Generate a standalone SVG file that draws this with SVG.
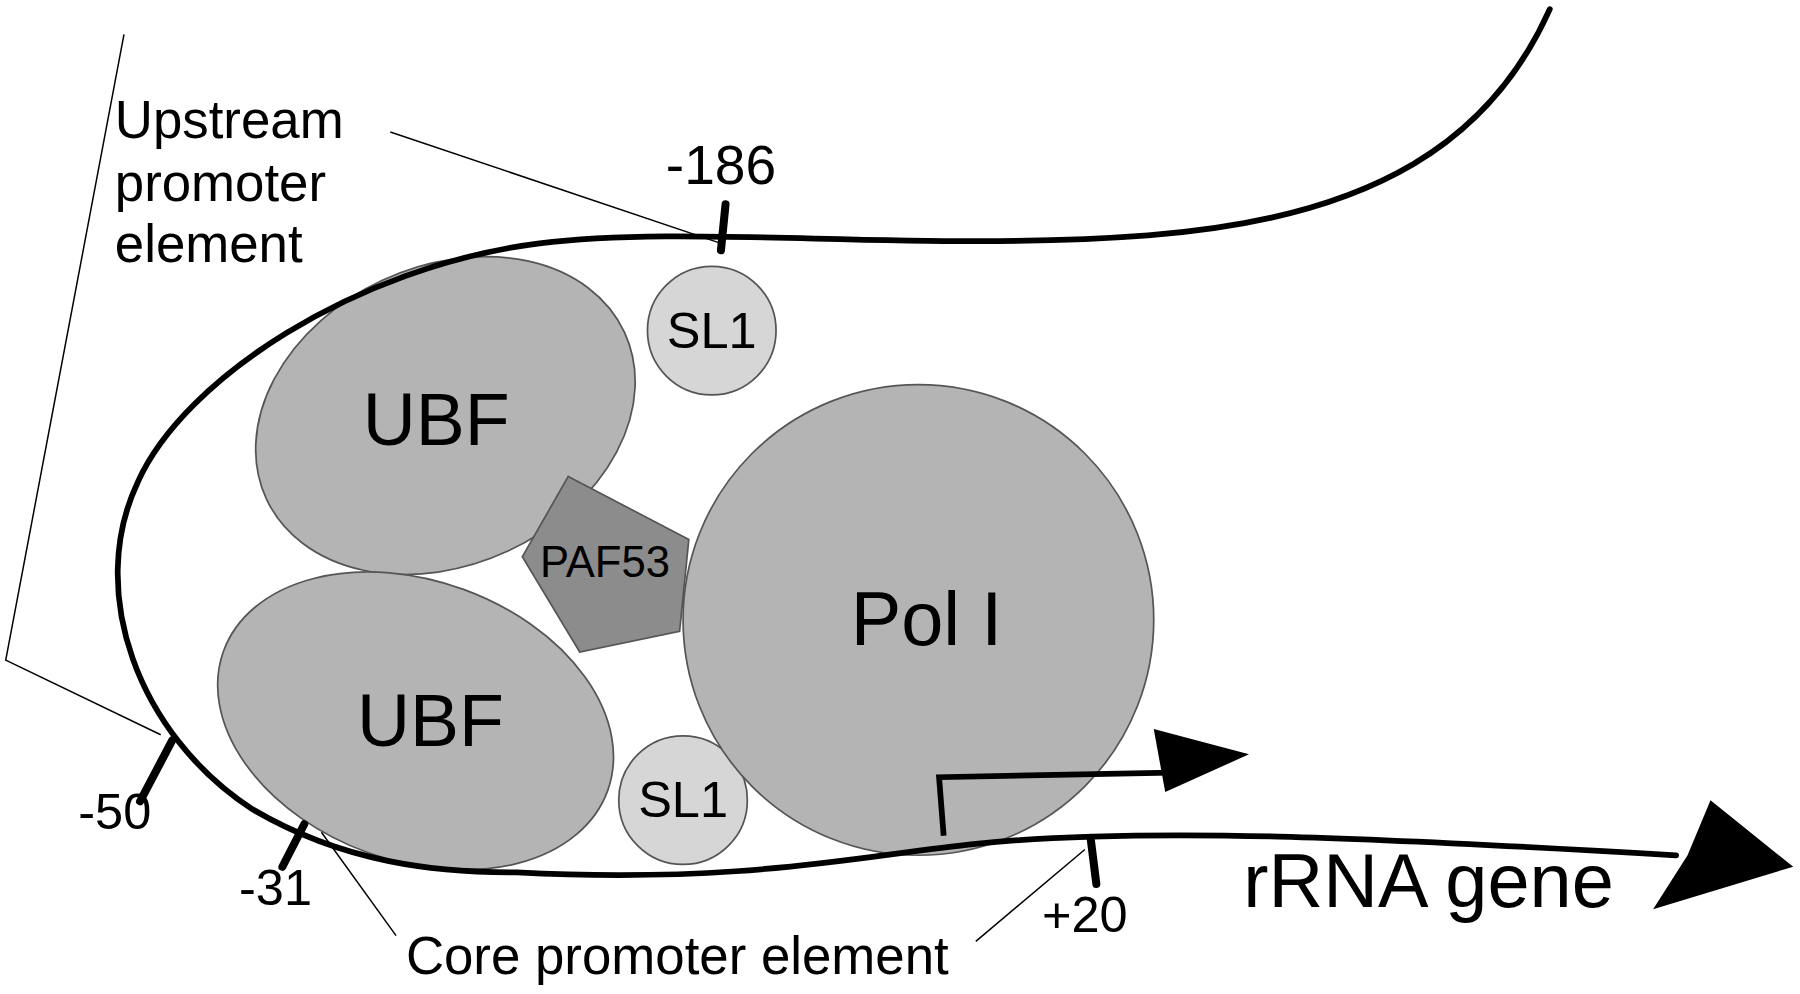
<svg xmlns="http://www.w3.org/2000/svg" width="1800" height="994" viewBox="0 0 1800 994">
<style>
text{font-family:"Liberation Sans",Arial,sans-serif;fill:#000}
.dna{fill:none;stroke:#000;stroke-width:5;stroke-linecap:round}
.tick{stroke:#000;stroke-width:7;stroke-linecap:round}
.lead{fill:none;stroke:#000;stroke-width:1.3}
.obj{stroke:#555;stroke-width:1.5}
</style>
<rect width="1800" height="994" fill="#fff"/>
<g transform="scale(1.148)">
<g id="ubf1"><ellipse class="obj" cx="388" cy="362" rx="172" ry="130" transform="rotate(-25 388 362)" fill="#b4b4b4"/><text x="380" y="388" font-size="64" text-anchor="middle">UBF</text></g>
<g id="ubf2"><ellipse class="obj" cx="362" cy="628" rx="178" ry="122" transform="rotate(20 362 628)" fill="#b4b4b4"/><text x="375" y="650" font-size="64" text-anchor="middle">UBF</text></g>
<g id="sl1a"><circle class="obj" cx="620" cy="288" r="56" fill="#d6d6d6"/><text x="620" y="303" font-size="44" text-anchor="middle">SL1</text></g>
<g id="sl1b"><circle class="obj" cx="595" cy="697" r="56" fill="#d6d6d6"/><text x="595" y="712" font-size="44" text-anchor="middle">SL1</text></g>
<g id="paf53"><polygon class="obj" points="495,415 600,470 592,550 505,568 455,485" fill="#8c8c8c"/><text x="527" y="503" font-size="38" text-anchor="middle">PAF53</text></g>
<g id="pol1"><circle class="obj" cx="800" cy="540" r="205" fill="#b4b4b4"/><text x="807" y="562" font-size="66" text-anchor="middle">Pol I</text></g>
<g id="connectors">
<path class="dna" d="M1350,8 C1300,120 1200,190 1000,205 C800,220 600,195 470,212 C310,232 160,330 120,420 C75,515 120,640 220,705 C300,752 380,760 450,760 C650,770 750,745 850,735 C1000,720 1200,730 1460,745"/>
<polygon points="1562,755 1490,697 1470,745 1440,792" fill="#000"/>
<path d="M822,728 L818,677 L1020,673" fill="none" stroke="#000" stroke-width="5"/>
<polygon points="1088,657 1005,635 1015,690" fill="#000"/>
<line class="tick" x1="632" y1="178" x2="628" y2="218"/>
<line class="tick" x1="122" y1="698" x2="150" y2="645"/>
<line class="tick" x1="246" y1="755" x2="265" y2="718"/>
<line class="tick" x1="955" y1="770" x2="950" y2="730"/>
<polyline class="lead" points="340,115 628,212"/>
<polyline class="lead" points="108,30 5,575 140,640"/>
<polyline class="lead" points="280,725 345,815"/>
<polyline class="lead" points="850,820 945,740"/>
</g>
<g id="labels" font-size="46">
<text x="628" y="160" text-anchor="middle" font-size="48">-186</text>
<text x="100" y="722" text-anchor="middle" font-size="44">-50</text>
<text x="240" y="788" text-anchor="middle" font-size="44">-31</text>
<text x="945" y="812" text-anchor="middle" font-size="44">+20</text>
<text x="590" y="848" text-anchor="middle">Core promoter element</text>
<text x="100" y="120">Upstream</text>
<text x="100" y="175">promoter</text>
<text x="100" y="228">element</text>
<text x="1083" y="790" font-size="66">rRNA gene</text>
</g>
</g>
</svg>
